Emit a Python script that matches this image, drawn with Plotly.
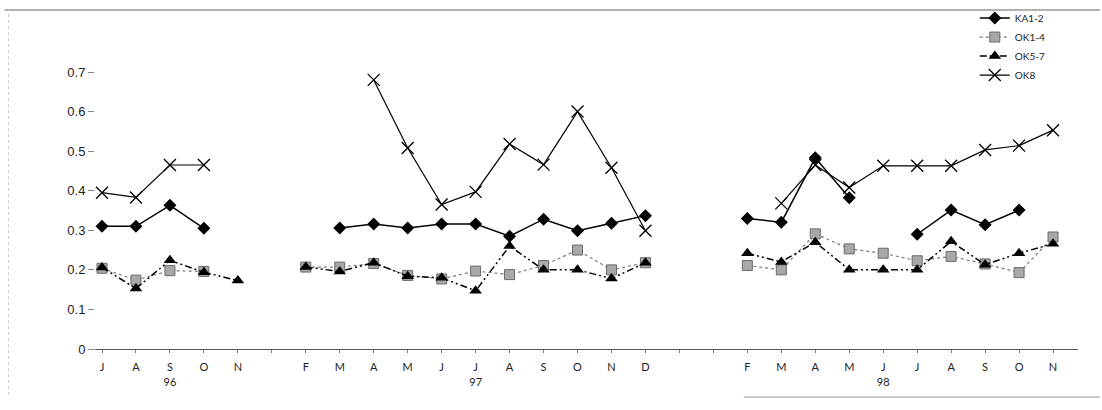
import plotly.graph_objects as go

# category slots (blank slots separate the years)
months = ["J", "A", "S", "O", "N", "", "F", "M", "A", "M", "J", "J", "A", "S", "O", "N", "D",
          "", "", "F", "M", "A", "M", "J", "J", "A", "S", "O", "N"]
year_labels = {2: "96", 11: "97", 23: "98"}

ka12 = [0.31, 0.31, 0.363, 0.305, None, None, None, 0.306, 0.316, 0.306, 0.316, 0.316, 0.285,
        0.328, 0.299, 0.318, 0.337, None, None, 0.33, 0.32, 0.483, 0.382, None, 0.29, 0.351,
        0.314, 0.351, None]
ok14 = [0.204, 0.174, 0.198, 0.196, None, None, 0.207, 0.207, 0.216, 0.186, 0.177, 0.197, 0.188,
        0.211, 0.25, 0.2, 0.218, None, None, 0.211, 0.2, 0.291, 0.253, 0.242, 0.223, 0.234,
        0.215, 0.193, 0.283]
ok57 = [0.206, 0.153, 0.224, 0.194, 0.173, None, 0.207, 0.196, 0.218, 0.184, 0.18, 0.147, 0.26,
        0.2, 0.2, 0.178, 0.218, None, None, 0.242, 0.22, 0.27, 0.2, 0.2, 0.2, 0.272, 0.213,
        0.242, 0.266]
ok8 = [0.395, 0.383, 0.465, 0.465, None, None, None, None, 0.68, 0.508, 0.365, 0.397, 0.518,
       0.466, 0.6, 0.458, 0.299, None, None, None, 0.368, 0.465, 0.408, 0.463, 0.463, 0.463,
       0.503, 0.514, 0.553]

y_ticks = [0, 0.1, 0.2, 0.3, 0.4, 0.5, 0.6, 0.7]
y_tick_text = ["0", "0.1", "0.2", "0.3", "0.4", "0.5", "0.6", "0.7"]

x = list(range(len(months)))
tick_text = [m + ("<br>" + year_labels[i] if i in year_labels else "") for i, m in enumerate(months)]

fig = go.Figure()
fig.add_trace(go.Scatter(
    x=x, y=ka12, name="KA1-2", mode="lines+markers",
    line=dict(color="black", width=1.5),
    marker=dict(symbol="diamond", size=10, color="black"),
))
fig.add_trace(go.Scatter(
    x=x, y=ok14, name="OK1-4", mode="lines+markers",
    line=dict(color="#7a7a7a", width=1.2, dash="dot"),
    marker=dict(symbol="square", size=10, color="#a8a8a8", line=dict(color="#6a6a6a", width=1)),
))
fig.add_trace(go.Scatter(
    x=x, y=ok57, name="OK5-7", mode="lines+markers",
    line=dict(color="black", width=1.5, dash="7px,3px,2px,3px,2px,3px"),
    marker=dict(symbol="triangle-up", size=11, color="black"),
))
fig.add_trace(go.Scatter(
    x=x, y=ok8, name="OK8", mode="lines+markers",
    line=dict(color="black", width=1.2),
    marker=dict(symbol="x-thin-open", size=12, line=dict(color="black", width=1.3)),
))

fig.update_layout(
    width=1102, height=410,
    margin=dict(l=95, r=24, t=20, b=61, autoexpand=False),
    paper_bgcolor="white", plot_bgcolor="white",
    font=dict(family="Liberation Sans, Arial, sans-serif", color="#222"),
    showlegend=True,
    legend=dict(
        x=0.895, y=1.05, xanchor="left", yanchor="top",
        bgcolor="rgba(0,0,0,0)", font=dict(size=10, family="Lato, DejaVu Sans, sans-serif"),
        tracegroupgap=0, itemwidth=30,
    ),
    xaxis=dict(
        range=[-0.206, 28.735], tickmode="array", tickvals=x, ticktext=tick_text,
        showgrid=False, zeroline=False, showline=True, linecolor="#555", linewidth=1,
        ticks="outside", ticklen=3, tickcolor="#777", ticklabelstandoff=5,
        tickfont=dict(size=11, family="Lato, DejaVu Sans, sans-serif", color="#222"),
    ),
    yaxis=dict(
        range=[0, 0.8314], tickmode="array", tickvals=y_ticks, ticktext=y_tick_text,
        showgrid=False, zeroline=False, showline=False,
        ticks="outside", ticklen=6, tickcolor="#888",
        tickfont=dict(size=13, color="#222"),
    ),
)

# scanned frame lines
fig.add_shape(type="line", xref="paper", yref="paper", x0=-0.092, x1=1.0224, y0=1.0304, y1=1.0304,
              line=dict(color="#666", width=1))
fig.add_shape(type="line", xref="paper", yref="paper", x0=0.66, x1=1.0224, y0=-0.146, y1=-0.146,
              line=dict(color="#999", width=1))
fig.add_shape(type="line", xref="paper", yref="paper", x0=-0.088, x1=-0.088, y0=-0.14, y1=1.03,
              line=dict(color="#ccc", width=1, dash="dot"))

fig.write_html("out.html", config={"displayModeBar": False},
               post_script="document.body.style.margin='0';document.body.style.overflow='hidden';")
